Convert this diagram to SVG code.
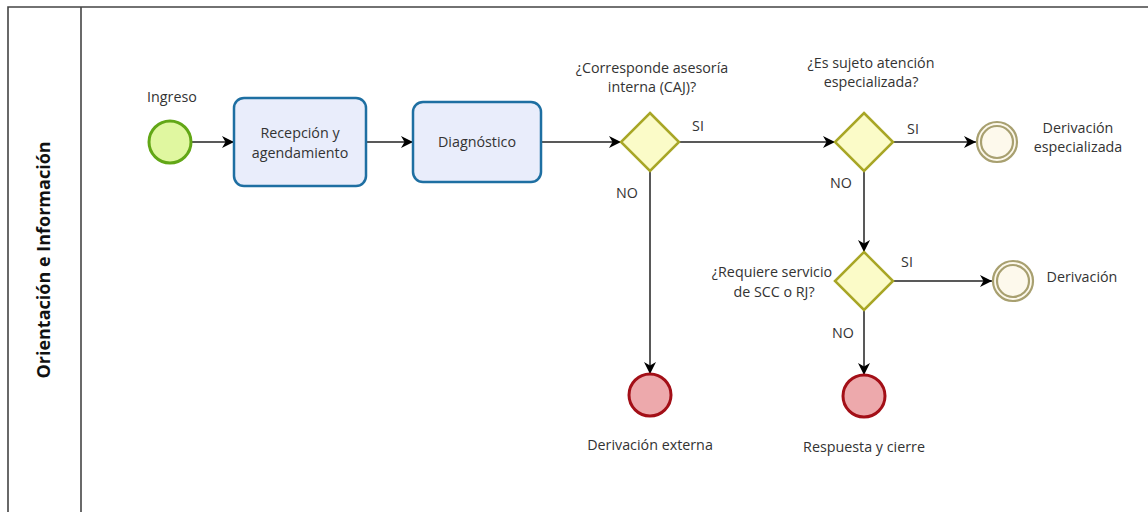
<svg xmlns="http://www.w3.org/2000/svg" width="1148" height="512" viewBox="0 0 1148 512">
  <defs>
    <marker id="arrow" viewBox="0 0 13 12" refX="12" refY="6" markerWidth="13" markerHeight="12" markerUnits="userSpaceOnUse" orient="auto">
      <path d="M0,0 L12,6 L0,12 L3.5,6 Z" fill="#000"/>
    </marker>
    <style>
      text { font-family: "Open Sans", "Noto Sans", "DejaVu Sans", sans-serif; font-size: 14.3px; fill: #333; }
      .mid { text-anchor: middle; }
      .lane { font-size: 18px; font-weight: bold; fill: #111; }
      .pool { stroke: #444; stroke-width: 1.6; fill: none; }
      .task { fill: #e9edfb; stroke: #1e6fa2; stroke-width: 2.5; }
      .start { fill: #e0f7a0; stroke: #62a716; stroke-width: 3; }
      .end { fill: #eda9ac; stroke: #a30f17; stroke-width: 3; }
      .inter { fill: #fdf9ec; stroke: #a8a070; stroke-width: 2.2; }
      .gw { fill: #fbfbc8; stroke: #a8a626; stroke-width: 2.5; stroke-linejoin: miter; }
      .flow { stroke: #222; stroke-width: 1.5; fill: none; marker-end: url(#arrow); }
    </style>
  </defs>

  <rect width="1148" height="512" fill="#fff"/>

  <!-- pool and lane -->
  <g id="pool">
    <path class="pool" d="M1148,7 L8,7 L8,512"/>
    <path class="pool" d="M81,7 L81,512"/>
    <text class="lane mid" transform="translate(50,260) rotate(-90)">Orientación e Información</text>
  </g>

  <!-- sequence flows -->
  <g id="connectors">
    <path class="flow" d="M191,142 L234,142"/>
    <path class="flow" d="M366,142 L413,142"/>
    <path class="flow" d="M541,142 L621,142"/>
    <path class="flow" d="M679,142 L835,142"/>
    <path class="flow" d="M893,142 L976,142"/>
    <path class="flow" d="M864,171 L864,252"/>
    <path class="flow" d="M893,281 L992,281"/>
    <path class="flow" d="M650,171 L650,374"/>
    <path class="flow" d="M864,310 L864,375"/>
    <text x="698" y="131" class="mid">SI</text>
    <text x="627" y="198" class="mid">NO</text>
    <text x="913" y="134" class="mid">SI</text>
    <text x="841" y="188" class="mid">NO</text>
    <text x="907" y="267" class="mid">SI</text>
    <text x="843" y="338" class="mid">NO</text>
  </g>

  <g id="start-ingreso">
    <circle class="start" cx="170" cy="142" r="21"/>
    <text x="172" y="102" class="mid">Ingreso</text>
  </g>

  <g id="task-recepcion">
    <rect class="task" x="234" y="98" width="132" height="88" rx="10"/>
    <text x="300" y="138" class="mid">Recepción y</text>
    <text x="300" y="158" class="mid">agendamiento</text>
  </g>

  <g id="task-diagnostico">
    <rect class="task" x="413" y="102" width="128" height="80" rx="10"/>
    <text x="477" y="147" class="mid">Diagnóstico</text>
  </g>

  <g id="gw-caj">
    <path class="gw" d="M650,113 L679,142 L650,171 L621,142 Z"/>
    <text x="652" y="73" class="mid">¿Corresponde asesoría</text>
    <text x="652" y="92" class="mid">interna (CAJ)?</text>
  </g>

  <g id="gw-especializada">
    <path class="gw" d="M864,113 L893,142 L864,171 L835,142 Z"/>
    <text x="871" y="68" class="mid">¿Es sujeto atención</text>
    <text x="871" y="87" class="mid">especializada?</text>
  </g>

  <g id="gw-scc-rj">
    <path class="gw" d="M864,252 L893,281 L864,310 L835,281 Z"/>
    <text x="772" y="277" class="mid">¿Requiere servicio</text>
    <text x="774" y="297" class="mid">de SCC o RJ?</text>
  </g>

  <g id="event-derivacion-especializada">
    <circle class="inter" cx="997" cy="142" r="20"/>
    <circle class="inter" cx="997" cy="142" r="16"/>
    <text x="1078" y="133" class="mid">Derivación</text>
    <text x="1078" y="152" class="mid">especializada</text>
  </g>

  <g id="event-derivacion">
    <circle class="inter" cx="1013" cy="281" r="20"/>
    <circle class="inter" cx="1013" cy="281" r="16"/>
    <text x="1082" y="282" class="mid">Derivación</text>
  </g>

  <g id="end-derivacion-externa">
    <circle class="end" cx="650" cy="395" r="21"/>
    <text x="650" y="450" class="mid">Derivación externa</text>
  </g>

  <g id="end-respuesta-cierre">
    <circle class="end" cx="864" cy="396" r="21"/>
    <text x="864" y="452" class="mid">Respuesta y cierre</text>
  </g>
</svg>
